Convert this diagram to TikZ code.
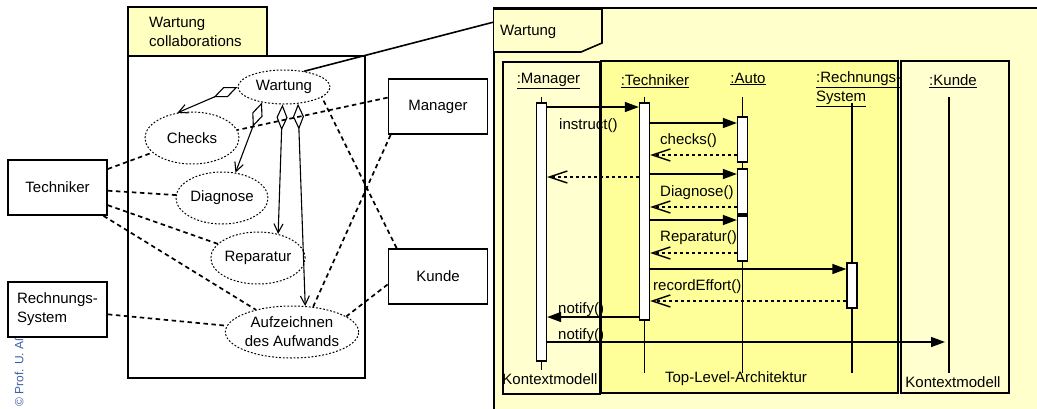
\documentclass[tikz,border=0pt]{standalone}
\usepackage{fontspec}
\setmainfont{Liberation Sans}
\usetikzlibrary{positioning}
\usetikzlibrary{shapes.geometric}
\usetikzlibrary{arrows.meta}
\definecolor{tabyellow}{HTML}{FFFFC0}
\definecolor{frameyellow}{HTML}{FFFFCC}
\definecolor{ctxyellow}{HTML}{FFFFD0}
\definecolor{tlayellow}{HTML}{FFFF99}
\definecolor{cpblue}{HTML}{3D5FA8}

\begin{document}
\begin{tikzpicture}[x=1pt, y=-1pt,
    every node/.style={font=\fontsize{15}{19}\selectfont},
    actor/.style={draw, line width=1.8pt, fill=white, minimum width=99pt, minimum height=55pt, inner sep=0pt},
    usecase/.style={ellipse, draw, dash pattern=on 1.8pt off 1.8pt, line width=1pt, inner sep=0pt},
    assoc/.style={dash pattern=on 4.5pt off 3.5pt, line width=1.7pt},
    part/.style={line width=1.1pt, {Diamond[open,length=26pt,width=11pt]}-{Straight Barb[length=9pt,width=9pt]}},
    bar/.style={draw, fill=white, line width=1.3pt, minimum width=10pt, inner sep=0pt},
    life/.style={line width=1.4pt},
    call/.style={line width=1.5pt, -{Triangle[length=14pt,width=10pt]}},
    ret/.style={line width=1.4pt, dash pattern=on 3pt off 3pt, -{Straight Barb[length=18pt,width=12pt]}},
    lbl/.style={anchor=west, inner sep=0pt}]

    \useasboundingbox (0,0) rectangle (1037,408);

    % Kollaborationen
    \node[draw, line width=1.8pt, fill=tabyellow, minimum width=139pt, minimum height=49pt, inner sep=0pt, anchor=north west] at (127,6) (collabtab) {};
    \node[lbl, align=left] at (149,32) (collabtxt) {Wartung\\collaborations};
    \node[draw, line width=1.8pt, minimum width=237pt, minimum height=322pt, inner sep=0pt, anchor=north west] at (127,55) (collab) {};

    % Use cases
    \node[usecase, minimum width=92pt, minimum height=34pt] at (284,87) (wart) {Wartung};
    \node[usecase, minimum width=94pt, minimum height=52pt] at (192,138) (checks) {Checks};
    \node[usecase, minimum width=92pt, minimum height=52pt] at (222,198) (diag) {Diagnose};
    \node[usecase, minimum width=94pt, minimum height=52pt] at (258,258) (rep) {Reparatur};
    \node[usecase, minimum width=120pt, minimum height=52pt, align=center] at (292,332) (auf) {Aufzeichnen\\des Aufwands};

    % Copyright
    \node[rotate=90, anchor=west, text=cpblue, font=\fontsize{12}{14}\selectfont, inner sep=0pt] at (19,407) (copy) {© Prof. U. Aßmann};

    % Actors
    \node[actor] at (57.5,187.5) (tech) {Techniker};
    \node[actor, align=left] at (57.5,309.5) (rech) {Rechnungs-\\System};
    \node[actor] at (438,106.5) (mgr) {Manager};
    \node[actor] at (438,276.5) (kunde) {Kunde};

    % Parts
    \draw[part] (wart.west) -- (checks.120);
    \draw[part] (wart.215) -- (diag.62);
    \draw[part] (wart.265) -- (rep.50);
    \draw[part] (wart.-50) -- (auf.63);

    % Associations
    \draw[assoc] (tech) -- (checks);
    \draw[assoc] (tech) -- (diag);
    \draw[assoc] (tech) -- (rep);
    \draw[assoc] (tech) -- (auf);
    \draw[assoc] (rech) -- (auf);
    \draw[assoc] (mgr.170) -- (checks.10);
    \draw[assoc] ([xshift=3pt]mgr.south west) -- (auf.50);
    \draw[assoc] ([xshift=9pt]kunde.north west) -- (wart.-15);
    \draw[assoc] (kunde.189) -- (auf.16);

    % Sequenzdiagramm
    \draw[line width=2pt, fill=frameyellow] (494,8) rectangle (1045,415);
    \coordinate (seqlink) at (494,22);
    \draw[line width=1.6pt] (wart.38) -- (seqlink);
    \draw[line width=1.6pt, fill=frameyellow] (494,9) -- (602,9) -- (602,43) -- (581,52) -- (494,52);
    \node[lbl] at (500,32) (seqtitle) {Wartung};

    \node[draw, line width=1.8pt, fill=ctxyellow, minimum width=97pt, minimum height=332pt, inner sep=0pt, anchor=north west] at (502,61) (ctxleft) {};
    \node[draw, line width=2.4pt, fill=tlayellow, minimum width=297pt, minimum height=332pt, inner sep=0pt, anchor=north west] at (600,60) (tla) {};
    \node[draw, line width=1.8pt, fill=ctxyellow, minimum width=108pt, minimum height=332pt, inner sep=0pt, anchor=north west] at (900,60) (ctxright) {};

    \node at (550,379) (ctxlefttxt) {Kontextmodell};
    \node at (736,379) (tlatxt) {Top-Level-Architektur};
    \node at (953,382) (ctxrighttxt) {Kontextmodell};

    % Lifelines
    \node at (548.5,81) (mgrhead) {\underline{:Manager}};
    \node at (655,81) (techhead) {\underline{:Techniker}};
    \node at (748,79) (autohead) {\underline{:Auto}};
    \node[lbl, align=left] at (816,89.5) (rshead) {\underline{:Rechnungs-}\\\underline{System}};
    \node at (953,81) (kundehead) {\underline{:Kunde}};

    \coordinate (mgrlife) at (541.5,97);
    \coordinate (techlife) at (644.5,97);
    \coordinate (autolife) at (742.5,97);
    \coordinate (rslife) at (852,103);
    \coordinate (kundelife) at (949,97);
    \draw[life] (mgrlife) -- ++(0,273);
    \draw[life] (techlife) -- ++(0,276);
    \draw[life] (autolife) -- ++(0,276);
    \draw[life] (rslife) -- ++(0,270);
    \draw[life] (kundelife) -- ++(0,276);

    \node[bar, minimum height=258pt] at (541.5,232) (mgrbar) {};
    \node[bar, minimum height=217pt] at (644.5,211.5) (techbar) {};
    \node[bar, minimum height=45pt] at (742.5,139.5) (autobarA) {};
    \node[bar, minimum height=45pt] at (742.5,191.5) (autobarB) {};
    \node[bar, minimum height=45pt] at (742.5,238.5) (autobarC) {};
    \node[bar, minimum height=45pt] at (852,285.5) (rsbar) {};

    % Messages
    \draw[call] (mgrbar.east |- 0,107) -- (techbar.west |- 0,107);
    \node[lbl] at (559,126) (instr) {instruct()};
    \draw[call] (techbar.east |- 0,123) -- (autobarA.west |- 0,123);
    \node[lbl] at (660,141) (chk) {checks()};
    \draw[ret] (autobarA.west |- 0,155) -- (techbar.east |- 0,155);
    \draw[ret] (techbar.west |- 0,177) -- (mgrbar.east |- 0,177);
    \draw[call] (techbar.east |- 0,174) -- (autobarB.west |- 0,174);
    \node[lbl] at (660,193) (dia) {Diagnose()};
    \draw[ret] (autobarB.west |- 0,207) -- (techbar.east |- 0,207);
    \draw[call] (techbar.east |- 0,220) -- (autobarC.west |- 0,220);
    \node[lbl] at (660,238) (repa) {Reparatur()};
    \draw[ret] (autobarC.west |- 0,253) -- (techbar.east |- 0,253);
    \draw[call] (techbar.east |- 0,269) -- (rsbar.west |- 0,269);
    \node[lbl] at (653,287) (rec) {recordEffort()};
    \draw[ret] (rsbar.west |- 0,301) -- (techbar.east |- 0,301);
    \node[lbl] at (558,310) (notA) {notify()};
    \draw[call] (techbar.west |- 0,317) -- (mgrbar.east |- 0,317);
    \node[lbl] at (558,336) (notB) {notify()};
    \draw[call, shorten >=4pt] (mgrbar.east |- 0,342) -- (kundelife |- 0,342);

\end{tikzpicture}
\end{document}
